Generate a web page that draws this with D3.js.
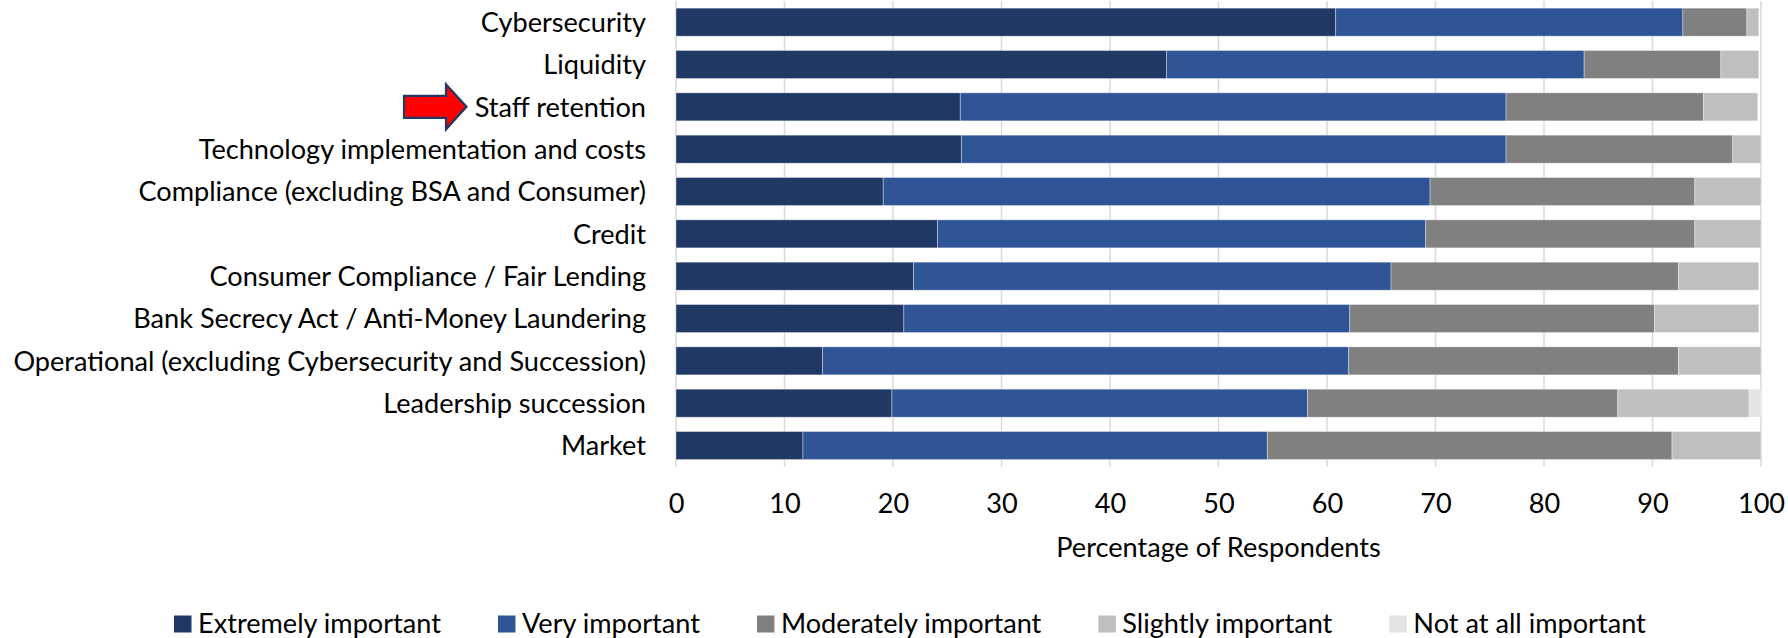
<!DOCTYPE html>
<html>
<head>
<meta charset="utf-8">
<script src="https://cdn.jsdelivr.net/npm/d3@7"></script>
<style>
  html, body { margin: 0; padding: 0; background: #fff; }
  svg { display: block; }
  text { font-family: "Lato", "Open Sans", sans-serif; fill: #000; }
</style>
</head>
<body>
<svg id="chart" width="1788" height="638"></svg>
<script>
// Risk categories, top to bottom
const categories = [
  "Cybersecurity",
  "Liquidity",
  "Staff retention",
  "Technology implementation and costs",
  "Compliance (excluding BSA and Consumer)",
  "Credit",
  "Consumer Compliance / Fair Lending",
  "Bank Secrecy Act / Anti-Money Laundering",
  "Operational (excluding Cybersecurity and Succession)",
  "Leadership succession",
  "Market"
];

// Share of respondents (%) per importance level, same order as categories
const extremelyImportant  = [60.8, 45.2, 26.2, 26.3, 19.1, 24.1, 21.9, 21.0, 13.5, 19.9, 11.7];
const veryImportant       = [32.0, 38.5, 50.3, 50.2, 50.4, 45.0, 44.0, 41.1, 48.5, 38.3, 42.8];
const moderatelyImportant = [ 5.9, 12.6, 18.2, 20.9, 24.4, 24.8, 26.5, 28.1, 30.4, 28.6, 37.3];
const slightlyImportant   = [ 1.1,  3.5,  5.0,  2.6,  6.1,  6.1,  7.4,  9.6,  7.6, 12.1,  8.2];
const notAtAllImportant   = [ 0.0,  0.0,  0.0,  0.0,  0.0,  0.0,  0.0,  0.0,  0.0,  1.1,  0.0];

const seriesNames = ["Extremely important", "Very important", "Moderately important", "Slightly important", "Not at all important"];
const seriesValues = [extremelyImportant, veryImportant, moderatelyImportant, slightlyImportant, notAtAllImportant];
const seriesColors = ["#203864", "#2F5597", "#808080", "#BFBFBF", "#E4E4E4"];

const xTicks = [0, 10, 20, 30, 40, 50, 60, 70, 80, 90, 100];
const xTitle = "Percentage of Respondents";
const highlighted = "Staff retention";

const svg = d3.select("#chart");

// Font size chosen so the longest category label spans its slot
const probe = svg.append("text").attr("font-size", 100).text(categories[8]);
const fontSize = 100 * 633 / probe.node().getComputedTextLength();
probe.remove();

const plot = { left: 676, right: 1761, top: 1, bottom: 466.7 };

const x = d3.scaleLinear().domain([0, 100]).range([plot.left, plot.right]);
const y = d3.scaleBand().domain(categories).range([plot.top, plot.bottom])
  .paddingInner(0.338).paddingOuter(0.169);

// Vertical gridlines
svg.append("g")
  .selectAll("line")
  .data(xTicks)
  .join("line")
  .attr("x1", d => x(d)).attr("x2", d => x(d))
  .attr("y1", plot.top).attr("y2", plot.bottom)
  .attr("stroke", "#D9D9D9").attr("stroke-width", 1.5);

// Stacked bars
const rows = categories.map((c, i) => {
  const r = { category: c };
  seriesNames.forEach((s, k) => { r[s] = seriesValues[k][i]; });
  return r;
});
const stacked = d3.stack().keys(seriesNames)(rows);

svg.append("g")
  .selectAll("g")
  .data(stacked)
  .join("g")
  .attr("fill", (d, k) => seriesColors[k])
  .selectAll("rect")
  .data(d => d.filter(p => p[1] - p[0] > 0))
  .join("rect")
  .attr("x", d => x(d[0]))
  .attr("width", d => x(d[1]) - x(d[0]))
  .attr("y", d => y(d.data.category))
  .attr("height", y.bandwidth())
  .attr("stroke", "#ffffff").attr("stroke-opacity", 0.45).attr("stroke-width", 0.8);

// Category labels
const yAxis = d3.axisLeft(y).tickSize(0).tickPadding(30);
const yG = svg.append("g").attr("transform", `translate(${plot.left},0)`).call(yAxis);
yG.select(".domain").remove();
yG.selectAll("text")
  .attr("font-size", fontSize)
  .attr("font-family", "Lato, 'Open Sans', sans-serif")
  .attr("fill", "#000")
  .attr("dy", "0.36em");

// X tick labels
const xAxis = d3.axisBottom(x).tickValues(xTicks).tickSize(0).tickPadding(0);
const xG = svg.append("g").attr("transform", `translate(0,513)`).call(xAxis);
xG.select(".domain").remove();
xG.selectAll("text")
  .attr("font-size", fontSize)
  .attr("font-family", "Lato, 'Open Sans', sans-serif")
  .attr("fill", "#000")
  .attr("dy", 0)
  .attr("y", 0);

// X axis title
svg.append("text")
  .attr("x", (plot.left + plot.right) / 2)
  .attr("y", 557)
  .attr("text-anchor", "middle")
  .attr("font-size", fontSize)
  .text(xTitle);

// Pointer arrow beside the highlighted category
const cy = y(highlighted) + y.bandwidth() / 2;
const arrowTip = 466.5, arrowBack = 404, neck = 446;
svg.append("path")
  .attr("d", d3.line()([
    [arrowBack, cy - 11], [neck, cy - 11], [neck, cy - 22.5], [arrowTip, cy],
    [neck, cy + 22.5], [neck, cy + 11], [arrowBack, cy + 11]
  ]) + "Z")
  .attr("fill", "#FF0000")
  .attr("stroke", "#203864")
  .attr("stroke-width", 2.2)
  .attr("stroke-linejoin", "miter");

// Legend, laid out left to right from the first swatch
const legendStarts = [];
const legend = svg.append("g");
let lx = 174;
seriesNames.forEach((name, k) => {
  legend.append("rect")
    .attr("x", lx).attr("y", 615.5)
    .attr("width", 17.5).attr("height", 17)
    .attr("fill", seriesColors[k]);
  const t = legend.append("text")
    .attr("x", lx + 24).attr("y", 633)
    .attr("font-size", fontSize)
    .text(name);
  lx += 24 + t.node().getComputedTextLength() + 57;
});
</script>
</body>
</html>
